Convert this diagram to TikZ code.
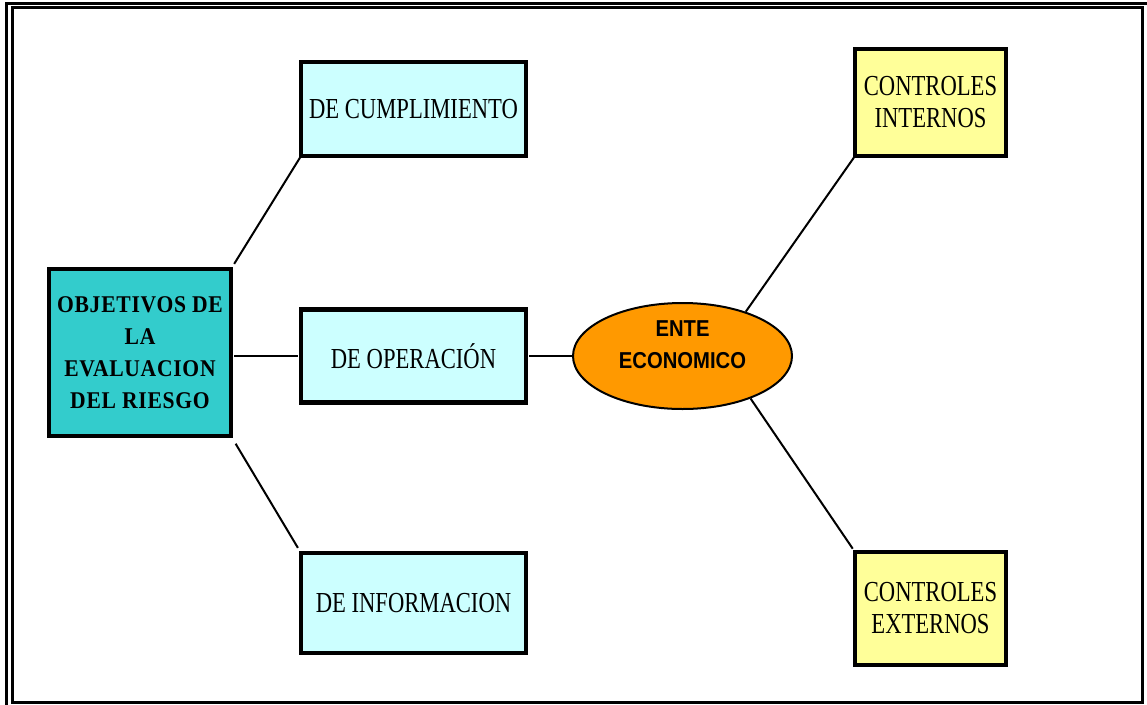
\documentclass[tikz,border=0pt]{standalone}
\usepackage{fontspec}
\usetikzlibrary{shapes.geometric}
\setmainfont{Liberation Serif}
\newfontfamily\boxfont[FakeStretch=0.78]{Liberation Serif}
\newfontfamily\objfont[FakeStretch=0.9,LetterSpace=3]{Liberation Serif}
\newfontfamily\entfont[FakeStretch=0.88]{Liberation Sans}
\definecolor{tealbox}{HTML}{33CCCC}
\definecolor{cyanbox}{HTML}{CCFFFF}
\definecolor{yellowbox}{HTML}{FFFF99}
\definecolor{orangebox}{HTML}{FF9900}
\tikzset{
  boxstyle/.style={draw=black, line width=4.5pt, inner sep=0pt, outer sep=0pt, align=center,
    font=\boxfont\fontsize{29}{32}\selectfont},
  objstyle/.style={boxstyle, fill=tealbox, font=\objfont\bfseries\fontsize{24}{32}\selectfont},
  cyanstyle/.style={boxstyle, fill=cyanbox, minimum width=225pt},
  yellowstyle/.style={boxstyle, fill=yellowbox, minimum width=151pt},
  entstyle/.style={ellipse, draw=black, line width=2pt, fill=orangebox, inner sep=0pt,
    minimum width=219pt, minimum height=106pt},
  enttext/.style={align=center, inner sep=0pt, yshift=11pt,
    font=\entfont\bfseries\fontsize{23}{32}\selectfont},
  conn/.style={draw=black, line width=2pt},
  framestyle/.style={draw=black, line width=3pt}
}
\begin{document}
\begin{tikzpicture}[x=1pt,y=-1pt]
\useasboundingbox (0,0) rectangle (1147,704);
% frame
\draw[framestyle] (6,3) rectangle (1160,720);
\draw[framestyle] (12.5,7) rectangle (1142.5,702.5);
% nodes
\node[objstyle, minimum width=182pt, minimum height=167pt] (obj) at (140,352.5)
  {OBJETIVOS DE\\LA\\EVALUACION\\DEL RIESGO};
\node[cyanstyle, minimum height=94pt] (cump) at (413.5,109) {DE CUMPLIMIENTO};
\node[cyanstyle, minimum height=93pt] (oper) at (413.5,356) {DE OPERACIÓN};
\node[cyanstyle, minimum height=100pt] (info) at (413.5,603) {DE INFORMACION};
\node[entstyle, label={[enttext]center:ENTE\\ECONOMICO}] (ent) at (682.5,356) {};
\node[yellowstyle, minimum height=107pt] (int) at (930.5,102.5) {CONTROLES\\INTERNOS};
\node[yellowstyle, minimum height=113pt] (ext) at (930.5,608.5) {CONTROLES\\EXTERNOS};
% connectors
\draw[conn, shorten <=6pt, shorten >=2pt] (obj.north east) -- (cump.south west);
\draw[conn, shorten <=3pt, shorten >=3pt] (obj.east |- oper.west) -- (oper.west);
\draw[conn, shorten <=9pt, shorten >=6pt] (obj.south east) -- (info.north west);
\draw[conn, shorten <=3pt] (oper.east) -- (ent.west);
\draw[conn, shorten >=2pt] (ent.35) -- (int.south west);
\draw[conn, shorten >=4pt] (ent.-32) -- (ext.north west);
\end{tikzpicture}
\end{document}
